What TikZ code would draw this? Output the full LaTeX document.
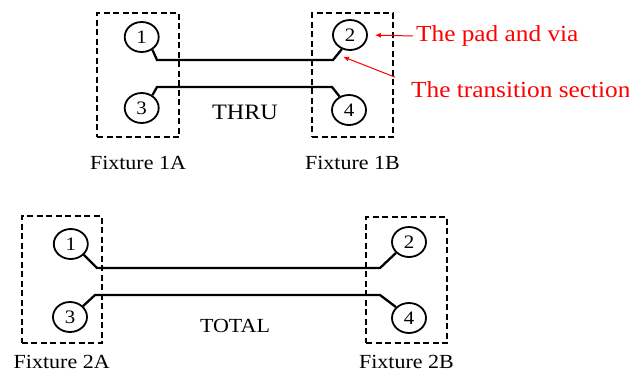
\documentclass[tikz,border=0pt]{standalone}
\usepackage{fontspec}
\setmainfont{Liberation Serif}[FakeStretch=1.1]
\usetikzlibrary{arrows.meta, positioning, shapes.geometric, calc}

\tikzset{
  fixture/.style={draw, line width=2pt, dash pattern=on 6pt off 3.5pt, inner sep=0pt},
  port/.style={ellipse, draw, line width=1.8pt, minimum width=34pt, minimum height=30pt,
    inner sep=0pt, font=\fontsize{19}{22}\selectfont},
  trace/.style={line width=2.3pt},
  fixlabel/.style={inner sep=0pt, font=\fontsize{20}{24}\selectfont},
  callout/.style={red, line width=1pt, -{Latex[length=6pt, width=5pt]}},
  calltext/.style={red, inner sep=3pt, anchor=base west, font=\fontsize{23}{27}\selectfont},
}

\begin{document}
\begin{tikzpicture}[x=1pt, y=-1pt, font=\fontsize{20}{24}\selectfont]
  \useasboundingbox (0,0) rectangle (629,378);

  % Fixture boxes
  \node[fixture, minimum width=82pt, minimum height=124pt] (fx1a) at (138,75) {};
  \node[fixture, minimum width=81pt, minimum height=124pt] (fx1b) at (352.5,75) {};
  \node[fixture, minimum width=80pt, minimum height=127pt] (fx2a) at (61.7,279.5) {};
  \node[fixture, minimum width=81pt, minimum height=126pt] (fx2b) at (406.5,280) {};

  % Fixture labels
  \node[fixlabel, below=18pt of fx1a] (lb1a) {Fixture 1A};
  \node[fixlabel, below=18pt of fx1b] (lb1b) {Fixture 1B};
  \node[fixlabel, below=11pt of fx2a] (lb2a) {Fixture 2A};
  \node[fixlabel, below=11pt of fx2b] (lb2b) {Fixture 2B};

  % Ports
  \foreach \name/\num/\x/\y in {p1/1/141.7/37, p3/3/141.7/108, p2/2/350/35, p4/4/349/110,
                               q1/1/70.8/244, q3/3/70/317, q2/2/409/242, q4/4/409/318}
    \node[port] (\name) at (\x,\y) {\num};

  % THRU traces
  \draw[trace] (p1.-50) -- (157,60) -- (333,60) -- coordinate (tr) (p2.-120);
  \draw[trace] (p3.50) -- (157,87) -- (332,87) -- (p4.125);
  \node[anchor=base, font=\fontsize{22}{26}\selectfont] (thru) at (245,119) {THRU};

  % TOTAL traces
  \draw[trace] (q1.-40) -- (97,268) -- (380,268) -- (q2.-140);
  \draw[trace] (q3.40) -- (95,295) -- (380,295) -- (q4.140);
  \node[anchor=base] (total) at (235,332) {TOTAL};

  % Callouts
  \node[calltext] (pad) at (413,41.5) {The pad and via};
  \node[calltext] (trans) at (408,97) {The transition section};
  \draw[callout, shorten >=7pt] (pad.west) -- (p2.east);
  \draw[callout, shorten >=6pt] ([xshift=-13pt, yshift=12pt]trans.west) -- (tr);

\end{tikzpicture}
\end{document}
